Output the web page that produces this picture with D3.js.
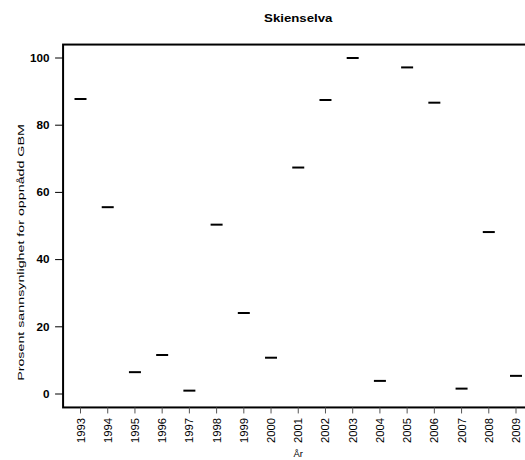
<!DOCTYPE html>
<html>
<head>
<meta charset="utf-8">
<script src="https://cdn.jsdelivr.net/npm/d3@7"></script>
<style>
  body { margin: 0; background: #fff; }
  svg { font-family: "Liberation Sans", Arial, sans-serif; }
</style>
</head>
<body>
<div id="chart"></div>
<script>
// data
const years = [1993, 1994, 1995, 1996, 1997, 1998, 1999, 2000, 2001,
               2002, 2003, 2004, 2005, 2006, 2007, 2008, 2009];
const percent = [87.8, 55.6, 6.5, 11.6, 1.0, 50.4, 24.1, 10.8, 67.4,
                 87.5, 100, 3.9, 97.2, 86.7, 1.6, 48.2, 5.4];
const yTicks = [0, 20, 40, 60, 80, 100];
const title = 'Skienselva';
const labelX = 'År';
const labelY = 'Prosent sannsynlighet for oppnådd GBM';

const width = 525, height = 460;

const svg = d3.select('#chart').append('svg')
    .attr('width', width)
    .attr('height', height);

// scales (R style: 4% padding around the data range)
const scaleX = d3.scaleLinear().domain([1993, 2009]).range([80.5, 516]);
const scaleY = d3.scaleLinear().domain([0, 100]).range([394, 58]);
const padX = 0.04 * 16, padY = 0.04 * 100;
const x0 = scaleX(1993 - padX), x1 = scaleX(2009 + padX);
const y0 = scaleY(-padY), y1 = scaleY(100 + padY);

// plot box
svg.append('rect')
    .attr('x', x0).attr('y', y1)
    .attr('width', x1 - x0).attr('height', y0 - y1)
    .style('fill', 'none')
    .style('stroke', '#000')
    .style('stroke-width', 2);

// y axis
const axisY = svg.append('g').attr('transform', `translate(${x0}, 0)`);
axisY.selectAll('line.tick')
    .data(yTicks)
    .join('line')
    .attr('x1', -8).attr('x2', 0)
    .attr('y1', d => scaleY(d)).attr('y2', d => scaleY(d))
    .style('stroke', '#000');
axisY.selectAll('text')
    .data(yTicks)
    .join('text')
    .attr('transform', d => `translate(-13.5, ${scaleY(d) + 3.8}) scale(1.17, 1)`)
    .style('text-anchor', 'end')
    .style('font-size', '10px')
    .style('font-weight', 'bold')
    .text(d => d);

// x axis
const axisX = svg.append('g').attr('transform', `translate(0, ${y0})`);
axisX.selectAll('line')
    .data(years)
    .join('line')
    .attr('x1', d => scaleX(d)).attr('x2', d => scaleX(d))
    .attr('y1', 0).attr('y2', 6)
    .style('stroke', '#555');
axisX.selectAll('text')
    .data(years)
    .join('text')
    .attr('transform', d => `translate(${scaleX(d) + 4}, 10.5) rotate(-90) scale(1.13, 1)`)
    .style('text-anchor', 'end')
    .style('font-size', '10px')
    .text(d => d);

// marks: short horizontal dashes
svg.append('g').selectAll('line')
    .data(years.map((y, i) => [y, percent[i]]))
    .join('line')
    .attr('x1', d => scaleX(d[0]) - 6)
    .attr('x2', d => scaleX(d[0]) + 6)
    .attr('y1', d => scaleY(d[1]))
    .attr('y2', d => scaleY(d[1]))
    .style('stroke', '#000')
    .style('stroke-width', 2);

// labels
svg.append('text')
    .attr('transform', `translate(${(x0 + x1) / 2}, 21.7) scale(1.15, 1)`)
    .style('text-anchor', 'middle')
    .style('font-size', '11.5px')
    .style('font-weight', 'bold')
    .text(title);

svg.append('text')
    .attr('transform', `translate(${(x0 + x1) / 2}, 457)`)
    .style('text-anchor', 'middle')
    .style('font-size', '9.5px')
    .text(labelX);

svg.append('text')
    .attr('transform', `translate(24, 252.5) rotate(-90) scale(1.5, 1)`)
    .style('text-anchor', 'middle')
    .style('font-size', '9.5px')
    .text(labelY);
</script>
</body>
</html>
